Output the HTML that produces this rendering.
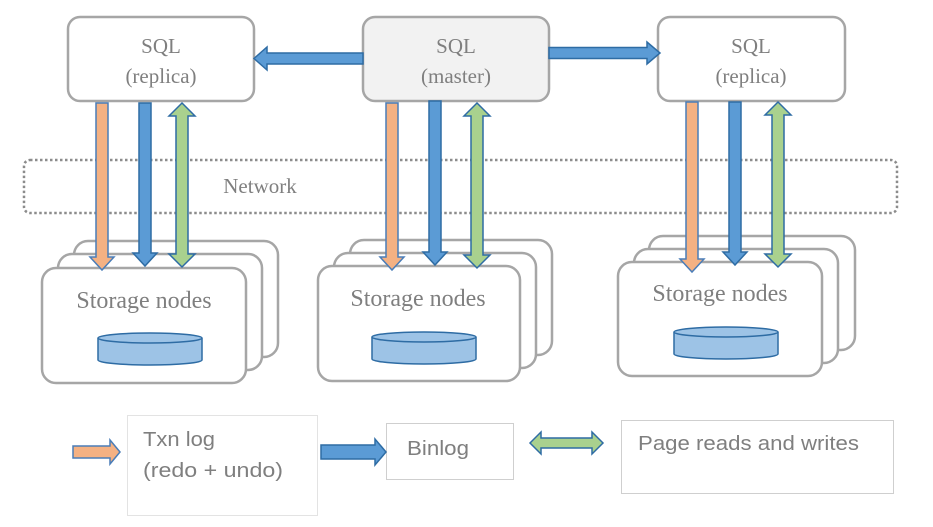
<!DOCTYPE html>
<html><head><style>
html,body{margin:0;padding:0;background:#fff;}
svg{display:block;}
.serif{font-family:"Liberation Serif",serif;fill:#7f7f7f;}
.sans{font-family:"Liberation Sans",sans-serif;fill:#7f7f7f;}
</style></head><body>
<svg width="933" height="527" viewBox="0 0 933 527" xmlns="http://www.w3.org/2000/svg">
<!-- network -->
<rect x="24" y="160" width="873" height="53" rx="6" fill="none" stroke="#8c8c8c" stroke-width="2.5" stroke-dasharray="2.5,2.5"/>
<text x="260" y="193" class="serif" font-size="21" text-anchor="middle">Network</text>

<!-- SQL boxes -->
<rect x="68" y="17" width="186" height="84" rx="12" fill="#fff" stroke="#a6a6a6" stroke-width="2.5"/>
<text x="161" y="53" class="serif" font-size="21" text-anchor="middle">SQL</text>
<text x="161" y="83" class="serif" font-size="21" text-anchor="middle">(replica)</text>
<rect x="363" y="17" width="186" height="84" rx="12" fill="#f2f2f2" stroke="#a6a6a6" stroke-width="2.5"/>
<text x="456" y="53" class="serif" font-size="21" text-anchor="middle">SQL</text>
<text x="456" y="83" class="serif" font-size="21" text-anchor="middle">(master)</text>
<rect x="658" y="17" width="187" height="84" rx="12" fill="#fff" stroke="#a6a6a6" stroke-width="2.5"/>
<text x="751" y="53" class="serif" font-size="21" text-anchor="middle">SQL</text>
<text x="751" y="83" class="serif" font-size="21" text-anchor="middle">(replica)</text>

<!-- storage stacks -->
<g fill="#fff" stroke="#a6a6a6" stroke-width="2.5">
<rect x="74" y="241" width="204" height="116" rx="14"/>
<rect x="58" y="254" width="204" height="116" rx="14"/>
<rect x="42" y="268" width="204" height="115" rx="14"/>
<rect x="350" y="240" width="202" height="115" rx="14"/>
<rect x="334" y="253" width="202" height="115" rx="14"/>
<rect x="318" y="266" width="202" height="115" rx="14"/>
<rect x="649" y="236" width="206" height="114" rx="14"/>
<rect x="634" y="249" width="204" height="114" rx="14"/>
<rect x="618" y="262" width="204" height="114" rx="14"/>
</g>
<text x="144" y="308" class="serif" font-size="24" text-anchor="middle">Storage nodes</text>
<text x="418" y="306" class="serif" font-size="24" text-anchor="middle">Storage nodes</text>
<text x="720" y="301" class="serif" font-size="24" text-anchor="middle">Storage nodes</text>

<!-- cylinders -->
<g fill="#9dc3e6" stroke="#2e6ca4" stroke-width="1.5">
<path d="M98,338 V360 A52,5 0 0 0 202,360 V338"/><ellipse cx="150" cy="338" rx="52" ry="5"/>
<path d="M372,337 V359 A52,5 0 0 0 476,359 V337"/><ellipse cx="424" cy="337" rx="52" ry="5"/>
<path d="M674,332 V354 A52,5 0 0 0 778,354 V332"/><ellipse cx="726" cy="332" rx="52" ry="5"/>
</g>

<!-- vertical arrows -->
<g stroke-width="1.5" stroke-linejoin="miter">
<g fill="#f4b183" stroke="#4a7db8">
<polygon points="96,103 108,103 108,257 114,257 102,270 90,257 96,257"/>
<polygon points="386,103 398,103 398,257 404,257 392,270 380,257 386,257"/>
<polygon points="686,102 698,102 698,259 704,259 692,272 680,259 686,259"/>
</g>
<g fill="#5b9bd5" stroke="#2e6ca4">
<polygon points="139,103 151,103 151,253 157,253 145,266 133,253 139,253"/>
<polygon points="429,101 441,101 441,252 447,252 435,265 423,252 429,252"/>
<polygon points="729,102 741,102 741,252 747,252 735,265 723,252 729,252"/>
<polygon points="363,53 267,53 267,47 254,58.5 267,70 267,64 363,64"/>
<polygon points="549,47.5 647,47.5 647,42 660,53 647,64 647,58.5 549,58.5"/>
</g>
<g fill="#a9d18e" stroke="#2e6ca4">
<polygon points="182,103 195,116 188,116 188,254 195,254 182,267 169,254 176,254 176,116 169,116"/>
<polygon points="477,103 490,116 483,116 483,255 490,255 477,268 464,255 471,255 471,116 464,116"/>
<polygon points="778,102 791,115 784,115 784,254 791,254 778,267 765,254 772,254 772,115 765,115"/>
</g>
</g>

<!-- legend -->
<rect x="127.5" y="415.5" width="190" height="100" fill="#fff" stroke="#e3e3e3" stroke-width="1"/>
<text x="143" y="446" class="sans" font-size="20" textLength="72" lengthAdjust="spacingAndGlyphs">Txn log</text>
<text x="143" y="477" class="sans" font-size="20" textLength="140" lengthAdjust="spacingAndGlyphs">(redo + undo)</text>
<rect x="386.5" y="423.5" width="127" height="56" fill="#fff" stroke="#cfcfcf" stroke-width="1"/>
<text x="407" y="455" class="sans" font-size="20" textLength="62" lengthAdjust="spacingAndGlyphs">Binlog</text>
<rect x="621.5" y="420.5" width="272" height="73" fill="#fff" stroke="#cfcfcf" stroke-width="1"/>
<text x="638" y="450" class="sans" font-size="20" textLength="221" lengthAdjust="spacingAndGlyphs">Page reads and writes</text>
<g stroke-width="1.5">
<polygon points="73,446 110,446 110,440 120,452 110,464 110,458 73,458" fill="#f4b183" stroke="#4a7db8"/>
<polygon points="321,445 375,445 375,439 386,452 375,465 375,459 321,459" fill="#5b9bd5" stroke="#2e6ca4"/>
<polygon points="530,443 541,432 541,438 592,438 592,432 603,443 592,454 592,448 541,448 541,454" fill="#a9d18e" stroke="#2e6ca4"/>
</g>
</svg>
</body></html>
